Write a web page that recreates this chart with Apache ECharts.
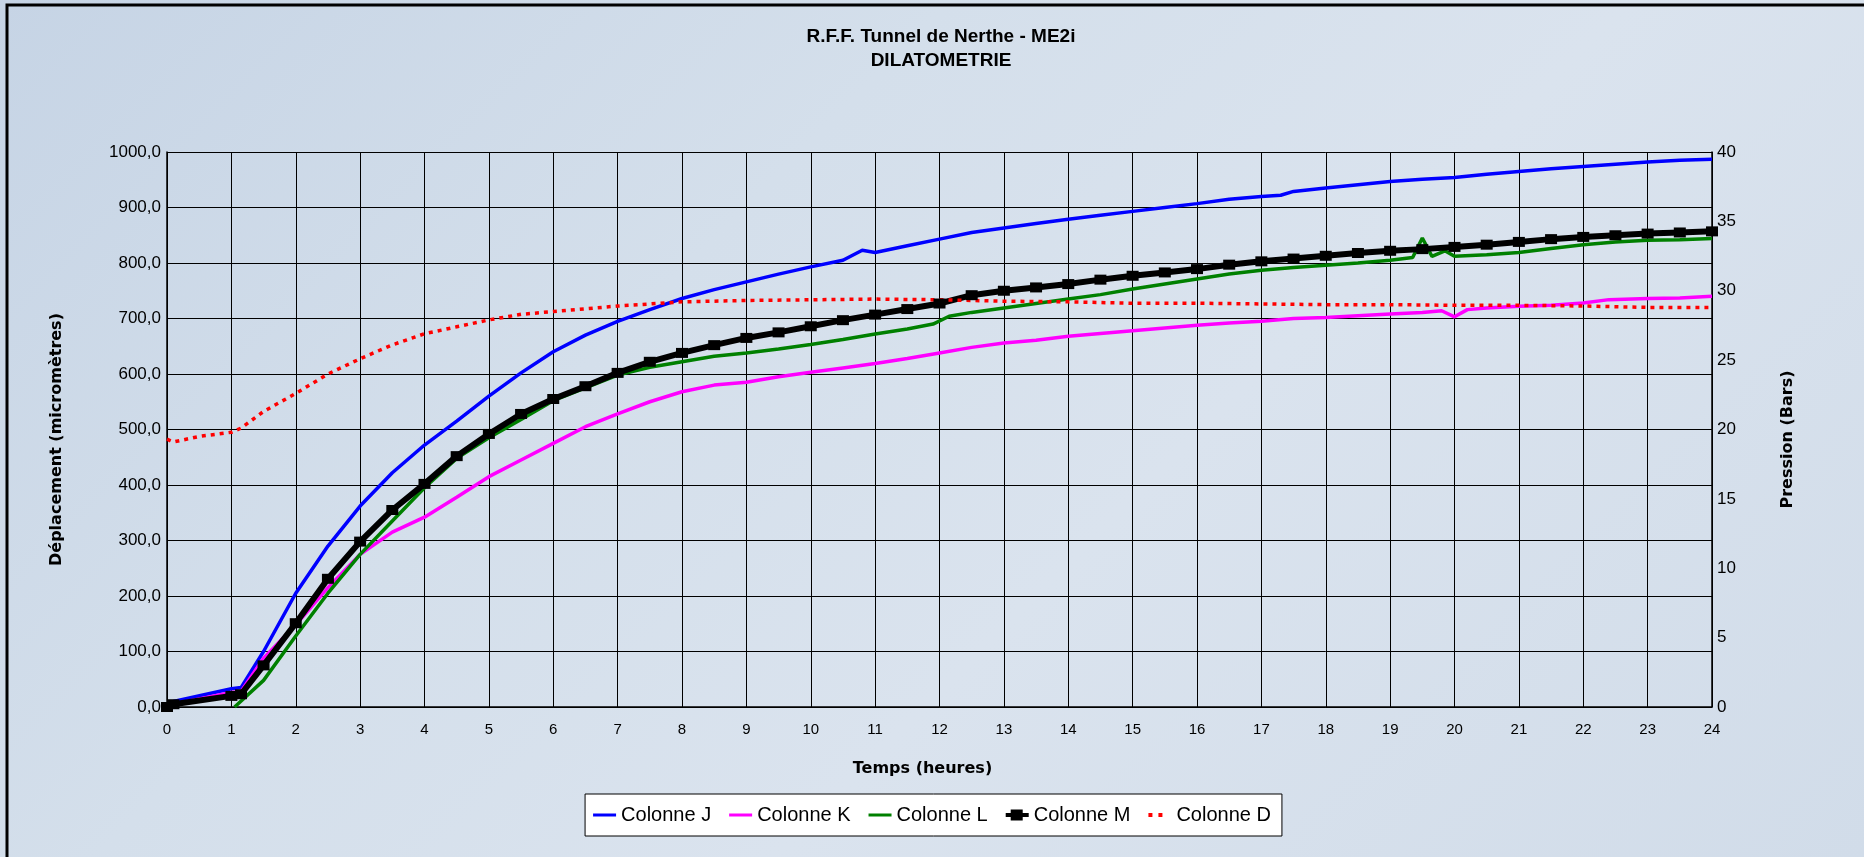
<!DOCTYPE html>
<html>
<head>
<meta charset="utf-8">
<script src="https://cdn.jsdelivr.net/npm/echarts@6.0.0/dist/echarts.min.js"></script>
<style>
html,body{margin:0;padding:0;}
#chart{width:1864px;height:857px;background:linear-gradient(135deg,#c6d4e5 0%,#d4dfeb 35%,#dae3ee 60%,#d1dce9 100%);}
</style>
</head>
<body>
<div id="chart"></div>
<script>
// Time (hours) and values (micrometres) per series
const tJ = [0,0.1,1,1.15,1.5,2,2.5,3,3.5,4,4.5,5,5.5,6,6.5,7,7.5,8,8.5,9,9.5,10,10.5,10.8,11,11.5,12,12.5,13,13.5,14,14.5,15,15.5,16,16.5,17,17.3,17.5,18,18.5,19,19.5,20,20.5,21,21.5,22,22.5,23,23.5,24];
const colonneJ = [3,10,33,35,100,205,290,362,422,472,515,560,602,640,670,695,716,736,752,766,780,793,805,823,819,831,843,855,863,871,879,886,893,900,907,915,920,922,929,935,941,947,951,954,960,965,970,974,978,982,985,987];

const tK = [0,0.1,1,1.15,1.5,2,2.5,3,3.5,4,4.5,5,5.5,6,6.5,7,7.5,8,8.5,9,9.5,10,10.5,11,11.5,12,12.5,13,13.5,14,14.5,15,15.5,16,16.5,17,17.5,18,18.5,19,19.5,19.8,20,20.2,20.5,21,21.5,22,22.4,23,23.5,24];
const colonneK = [1,5,26,28,88,148,215,275,315,342,378,415,445,475,505,528,550,568,580,585,595,603,611,619,628,638,648,656,661,668,673,678,683,688,692,695,700,702,705,708,711,714,703,716,719,722,724,728,734,736,737,740];

const tL = [1.05,1.5,2,2.5,3,3.5,4,4.5,5,5.5,6,6.5,7,7.5,8,8.5,9,9.5,10,10.5,11,11.5,11.9,12.15,12.5,13,13.5,14,14.5,15,15.5,16,16.5,17,17.5,18,18.5,19,19.35,19.5,19.65,19.85,20,20.5,21,21.5,22,22.5,23,23.5,24];
const colonneL = [0,48,128,205,275,335,395,448,485,518,552,575,598,612,622,632,638,645,653,662,672,681,690,704,711,719,727,735,743,753,762,771,780,787,792,796,800,805,810,845,812,822,812,815,819,826,833,838,841,842,844];

const tM = [0,0.1,1,1.15,1.5,2,2.5,3,3.5,4,4.5,5,5.5,6,6.5,7,7.5,8,8.5,9,9.5,10,10.5,11,11.5,12,12.5,13,13.5,14,14.5,15,15.5,16,16.5,17,17.5,18,18.5,19,19.5,20,20.5,21,21.5,22,22.5,23,23.5,24];
const colonneM = [0,5,20,23,75,151,231,298,355,402,452,492,528,555,578,602,622,638,652,665,675,686,697,707,717,727,742,750,756,762,770,777,783,789,797,803,808,813,818,822,825,829,833,838,843,847,850,853,855,857];

// Pressure (bars), right axis
const tD = [0,0.1,0.5,1,1.15,1.5,2,2.5,3,3.5,4,4.5,5,5.5,6,6.5,7,7.5,8,8.5,9,10,11,12,13,14,15,16,17,18,19,20,21,22,22.5,23,24];
const colonneD = [19.3,19.1,19.5,19.8,20.1,21.3,22.6,24.0,25.1,26.1,26.9,27.4,27.9,28.3,28.5,28.7,28.9,29.05,29.2,29.25,29.3,29.35,29.4,29.35,29.25,29.2,29.1,29.1,29.05,29.0,29.0,28.95,28.95,28.9,28.85,28.8,28.8];

const seriesNames = ['Colonne J','Colonne K','Colonne L','Colonne M','Colonne D'];
const titleLines = ['R.F.F. Tunnel de Nerthe - ME2i','DILATOMETRIE'];

function zip(t, v){ return t.map((x,i)=>[x, v[i]]); }

const FONT = 'Liberation Sans, Arial, sans-serif';
const NAMEFONT = 'DejaVu Sans, sans-serif';
const ICON_LINE = 'path://M0,0H23V3H0Z';
const ICON_SQ = 'path://M5,0H17V11H5Z M0,3.5H23V7.5H0Z';
const ICON_DOT = 'path://M0,0H4V4H0Z M10,0H14V4H10Z M22.9,0H23V0.1H22.9Z';
const legendIcons = [ICON_LINE, ICON_LINE, ICON_LINE, ICON_SQ, ICON_DOT];

const chart = echarts.init(document.getElementById('chart'), null, {renderer:'canvas'});

chart.setOption({
  backgroundColor: 'transparent',
  animation: false,
  textStyle: {fontFamily: FONT},
  graphic: [
    {type:'polyline', shape:{points:[[7,900],[7,5],[1900,5]]}, style:{stroke:'#000', lineWidth:3, fill:null}, z:-1},
    {type:'text', x:941, y:37, style:{text:titleLines[0], font:'bold 19px '+FONT, fill:'#000', textAlign:'center', textVerticalAlign:'middle'}},
    {type:'text', x:941, y:61, style:{text:titleLines[1], font:'bold 19px '+FONT, fill:'#000', textAlign:'center', textVerticalAlign:'middle'}}
  ],
  grid: {left:167, right:152, top:152, bottom:150, containLabel:false},
  legend: {
    data: seriesNames.map((n,i)=>({name:n, icon:legendIcons[i]})),
    left: 'center', top: 794,
    backgroundColor: '#fff', borderColor: '#000', borderWidth: 1,
    padding: [11, 11, 11, 8],
    itemWidth: 23, itemHeight: 12, itemGap: 18,
    symbolKeepAspect: true,
    textStyle: {fontSize: 20, color:'#000', fontFamily: FONT}
  },
  xAxis: {
    type: 'value', min: 0, max: 24, interval: 1,
    name: 'Temps (heures)', nameLocation: 'middle', nameGap: 54,
    nameTextStyle: {fontWeight:'bold', fontSize:16, color:'#000', fontFamily: NAMEFONT, padding:[0,34,0,0]},
    axisLine: {show:true, lineStyle:{color:'#000', width:1.5}},
    axisTick: {show:false},
    axisLabel: {color:'#000', fontSize:15, margin:15},
    splitLine: {show:true, lineStyle:{color:'#000', width:1}}
  },
  yAxis: [
    {
      type: 'value', min: 0, max: 1000, interval: 100,
      name: 'Déplacement (micromètres)', nameLocation: 'middle', nameGap: 102, nameRotate: 90,
      nameTextStyle: {fontWeight:'bold', fontSize:16, color:'#000', fontFamily: NAMEFONT, padding:[0,20,0,0]},
      axisLine: {show:true, lineStyle:{color:'#000', width:1.5}},
      axisTick: {show:false},
      axisLabel: {color:'#000', fontSize:17, margin:6, formatter: v => v.toFixed(1).replace('.', ',')},
      splitLine: {show:true, lineStyle:{color:'#000', width:1}}
    },
    {
      type: 'value', min: 0, max: 40, interval: 5, position: 'right',
      name: 'Pression (Bars)', nameLocation: 'middle', nameGap: 68, nameRotate: 90,
      nameTextStyle: {fontWeight:'bold', fontSize:16, color:'#000', fontFamily: NAMEFONT, padding:[0,20,0,0]},
      axisLine: {show:true, lineStyle:{color:'#000', width:1.5}},
      axisTick: {show:false},
      axisLabel: {color:'#000', fontSize:17, margin:5},
      splitLine: {show:false}
    }
  ],
  series: [
    {name:'Colonne J', type:'line', data:zip(tJ,colonneJ), symbol:'none', lineStyle:{color:'#0000ff', width:3.5}, itemStyle:{color:'#0000ff'}},
    {name:'Colonne K', type:'line', data:zip(tK,colonneK), symbol:'none', lineStyle:{color:'#ff00ff', width:3.5}, itemStyle:{color:'#ff00ff'}},
    {name:'Colonne L', type:'line', data:zip(tL,colonneL), symbol:'none', lineStyle:{color:'#008000', width:3.5}, itemStyle:{color:'#008000'}},
    {name:'Colonne M', type:'line', data:zip(tM,colonneM), symbol:'rect', symbolSize:[12,10], showAllSymbol:true, lineStyle:{color:'#000', width:6}, itemStyle:{color:'#000'}},
    {name:'Colonne D', type:'line', yAxisIndex:1, data:zip(tD,colonneD), symbol:'none', lineStyle:{color:'#ff0000', width:3.5, type:[4,5]}, itemStyle:{color:'#ff0000'}}
  ]
});
</script>
</body>
</html>
